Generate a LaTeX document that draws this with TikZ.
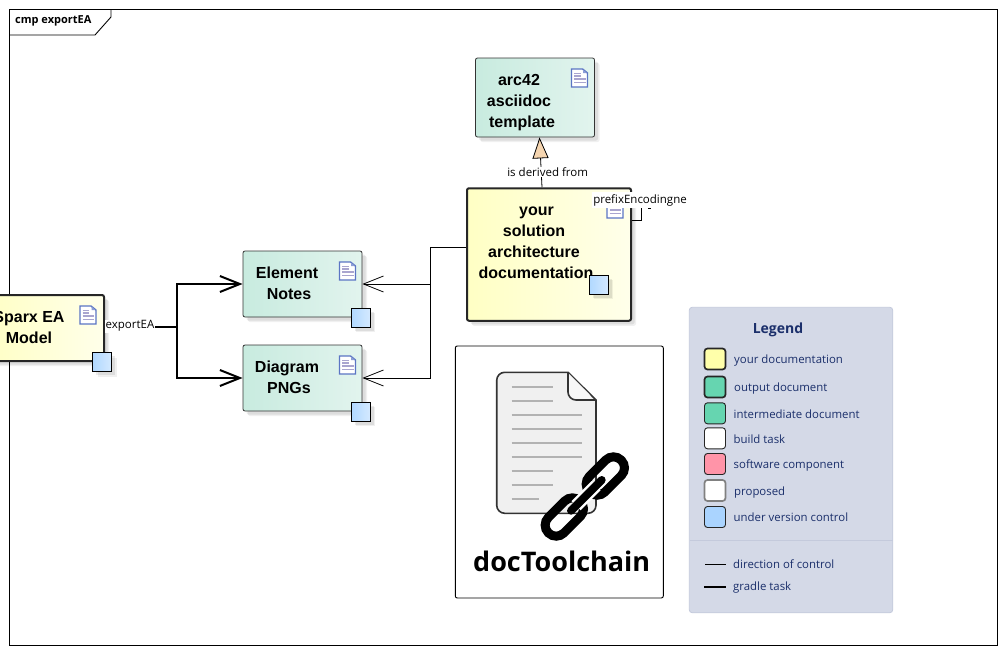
\documentclass[tikz,border=0pt]{standalone}
\usepackage{fontspec}
\setmainfont{Liberation Sans}
\newfontfamily\uifont{Open Sans}
\usetikzlibrary{arrows.meta,shadows,positioning}
\definecolor{legendbg}{HTML}{D4D9E7}
\definecolor{legendln}{HTML}{C4CADC}
\definecolor{legendtx}{HTML}{1B2F6B}
\definecolor{docblue}{HTML}{5B75C4}
\definecolor{docline}{HTML}{A9A5CF}
\definecolor{greenL}{HTML}{C8EBDF}
\definecolor{greenR}{HTML}{E2F4EE}
\definecolor{yellowL}{HTML}{FFFFC4}
\definecolor{yellowR}{HTML}{FFFFEA}
\definecolor{blueL}{HTML}{B0D8FF}
\definecolor{blueR}{HTML}{D4E9FF}
\definecolor{genfill}{HTML}{F5D5B0}
\definecolor{swyellow}{HTML}{FFFFAA}
\definecolor{swgreen}{HTML}{66D5B0}
\definecolor{swpink}{HTML}{FF94A8}
\definecolor{swblue}{HTML}{AAD4FF}
\newcommand{\boxtext}[3]{\makebox[0pt][c]{\hspace*{#1}\hspace*{#1}\raisebox{#2}[0pt][0pt]{\begin{tabular}{@{}c@{}}#3\end{tabular}}}}
\tikzset{
  softshadow/.style={
    drop shadow={shadow xshift=5pt,shadow yshift=-5pt,fill=black,opacity=.06},
    drop shadow={shadow xshift=3.5pt,shadow yshift=-3.5pt,fill=black,opacity=.08}},
  basebox/.style={rectangle,rounded corners=2pt,inner sep=0pt,font=\bfseries\fontsize{16}{21}\selectfont,softshadow},
  greenbox/.style={basebox,draw=black!80,line width=.8pt,left color=greenL,right color=greenR},
  yellowbox/.style={basebox,draw=black!85,line width=2pt,left color=yellowL,right color=yellowR},
  vcsquare/.style={rectangle,draw=black,line width=.8pt,left color=blueL,right color=blueR,minimum size=19pt,inner sep=0pt,softshadow},
  linklabel/.style={font=\uifont\fontsize{11.5}{13}\selectfont,fill=white,inner sep=1pt,text=black},
  legendtext/.style={font=\uifont\fontsize{11.4}{13}\selectfont,text=legendtx,anchor=west,inner sep=0pt,text height=11pt,text depth=2pt},
  swatch/.style={rectangle,rounded corners=3pt,minimum width=21pt,minimum height=21pt,inner sep=0pt,draw=black!85,line width=.9pt},
  swatchthick/.style={swatch,line width=1.7pt},
  thinconn/.style={draw=black,line width=.8pt},
  thickconn/.style={draw=black,line width=2pt},
  openhead/.style={-{Straight Barb[length=20pt,width=16pt,line width=.8pt]}},
  openheadthick/.style={-{Straight Barb[length=20pt,width=16pt,line width=2pt]}},
  pics/docicon/.style={code={
    \draw[docblue,line width=1.4pt,fill=white] (0,0) -- (11,0) -- (16,4) -- (16,18) -- (0,18) -- cycle;
    \fill[docblue!70] (11.5,0.5) -- (15.5,4) -- (11.5,4) -- cycle;
    \foreach \yy/\xx in {4.5/9,7/9,10/14,13.5/14} \draw[docline,line width=1.1pt] (2.5,\yy) -- (\xx,\yy);
  }}
}
\begin{document}
\begin{tikzpicture}[x=1pt,y=-1pt]
\useasboundingbox (0,0) rectangle (1003,653);
\fill[white] (0,0) rectangle (1003,653);
% frame
\draw[black,line width=.9pt] (9,9) rectangle (997,645);
\node[font=\uifont\bfseries\fontsize{11}{13}\selectfont,inner sep=0pt,anchor=west] (frameTitle) at (15,21) {cmp exportEA};
\draw[black,line width=.9pt] (9,35) -- (95,35) -- (111,17) -- (111,9);
% boxes
\node[greenbox,minimum width=119pt,minimum height=79pt] (arc) at (535,97.5)
  {\boxtext{-16pt}{-9.5pt}{arc42\\asciidoc\\\hspace*{6pt}template}};
\node[yellowbox,minimum width=164pt,minimum height=132.5pt] (your) at (549,254.5)
  {\boxtext{-15pt}{7pt}{\hspace*{5pt}your\\solution\\architecture\\\hspace*{4pt}documentation}};
\node[greenbox,minimum width=119pt,minimum height=66pt] (element) at (302.5,284)
  {\boxtext{-15.5pt}{-5pt}{Element\\\hspace*{4pt}Notes}};
\node[greenbox,minimum width=119pt,minimum height=66pt] (diagram) at (302.5,378)
  {\boxtext{-15.5pt}{-5pt}{Diagram\\\hspace*{4pt}PNGs}};
\node[yellowbox,minimum width=119pt,minimum height=66pt] (sparx) at (44.5,328)
  {\boxtext{-15.5pt}{-5pt}{Sparx EA\\Model}};
% doc icons
\pic at (339.5,262) {docicon};
\pic at (339.5,356) {docicon};
\pic at (80,306) {docicon};
\pic at (571.5,69) {docicon};
\pic at (607,200) {docicon};
% version control squares
\node[vcsquare] (vcElement) at (360.5,317.5) {};
\node[vcsquare] (vcDiagram) at (360.5,411.5) {};
\node[vcsquare] (vcSparx) at (102,362) {};
\node[vcsquare] (vcYour) at (598.5,284.5) {};
% connectors
\coordinate (junction) at (177,327);
\coordinate (bus) at (430,247);
\draw[thickconn,openheadthick] (sparx.east |- junction) -- (junction) |- (element.west);
\draw[thickconn,openheadthick] (junction) |- (diagram.west);
\draw[thinconn,openhead] (your.west |- bus) -- (bus) |- (diagram.east);
\draw[thinconn,openhead] (bus |- element.east) -- (element.east);
\draw[thinconn,-{Triangle[length=21pt,width=16pt,fill=genfill,line width=.8pt]}] ([xshift=-7pt]your.north) -- ([xshift=4.5pt]arc.south);
\coordinate (loopA) at (641,220);
\coordinate (loopB) at (641,205);
\coordinate (dashA) at (648,208.5);
\coordinate (dashB) at (651,208.5);
\draw[thinconn] (your.east |- loopA) -- (loopA) -- (loopB);
\draw[thinconn] (dashA) -- (dashB);
\node[linklabel,minimum width=50pt] (lblExport) at (130,326) {exportEA};
\node[linklabel] (lblDerived) at (547.7,172) {is derived from};
\node[linklabel,minimum height=16pt] (lblPrefix) at (640,200) {prefixEncodingne};
% docToolchain logo
\node[rectangle,rounded corners=2pt,draw=black,line width=.9pt,fill=white,minimum width=208pt,minimum height=252pt,inner sep=0pt] (logoBox) at (559.3,472) {};
\draw[black!80,line width=1.6pt,fill=black!6,rounded corners=8pt] (568,372.3) -- (496.7,372.3) -- (496.7,513.3) -- (596,513.3) -- (596,420) [sharp corners] -- (596,400) -- cycle;
\fill[black!3,rounded corners=8pt] (568,373) -- (568,400) -- (595,400) [sharp corners] -- cycle;
\draw[black!80,line width=1.6pt,rounded corners=8pt] (568,372.3) -- (568,400) -- (596,400);
\foreach \yy/\xx in {386.7/553,400.7/553,414.7/582,428.7/582,442.7/582,456.7/582,470.7/553,484.7/553,498.7/539}
  \draw[black!30,line width=2pt] (511.7,\yy) -- (\xx,\yy);
\begin{scope}[shift={(564.3,517)},rotate=45]
  \draw[black,line width=9pt,rounded corners=10.9pt] (-22.5,-11) rectangle (22.5,11);
\end{scope}
\begin{scope}[shift={(605.3,476)},rotate=45]
  \draw[black,line width=9pt,rounded corners=10.9pt] (-22.5,-11) rectangle (22.5,11);
\end{scope}
\draw[white,line width=13pt] (576,505.7) -- (596,485.7);
\draw[black,line width=8pt,line cap=round] (571,510.7) -- (601.7,480);
\node[font=\uifont\bfseries\fontsize{27}{30}\selectfont,inner sep=0pt] (logoText) at (561.7,561) {docToolchain};
% legend
\node[rectangle,rounded corners=3pt,draw=legendln,line width=.8pt,fill=legendbg,minimum width=203.5pt,minimum height=305.5pt,inner sep=0pt] (legend) at (791,460) {};
\node[font=\uifont\bfseries\fontsize{14}{16}\selectfont,text=legendtx,inner sep=0pt] (legendTitle) at (778,330) {Legend};
\node[swatchthick,fill=swyellow] (s1) at (715,359) {};
\node[swatchthick,fill=swgreen] (s2) at (715,387) {};
\node[swatch,fill=swgreen] (s3) at (715,413.3) {};
\node[swatch,fill=white] (s4) at (715,438.3) {};
\node[swatch,fill=swpink] (s5) at (715,464) {};
\node[swatchthick,draw=black!50,fill=white] (s6) at (715,490.5) {};
\node[swatch,fill=swblue] (s7) at (715,517) {};
\node[legendtext] (t1) at (734,359) {your documentation};
\node[legendtext] (t2) at (734,387) {output document};
\node[legendtext] (t3) at (733.5,414) {intermediate document};
\node[legendtext] (t4) at (733.5,438.5) {build task};
\node[legendtext] (t5) at (733.5,464) {software component};
\node[legendtext] (t6) at (734,491) {proposed};
\node[legendtext] (t7) at (733.5,517) {under version control};
\draw[legendln,line width=.8pt] (689.5,540) -- (893,540);
\coordinate (lineA1) at (705,564); \coordinate (lineA2) at (726,564);
\coordinate (lineB1) at (704,587); \coordinate (lineB2) at (726,587);
\draw[thinconn] (lineA1) -- (lineA2);
\draw[thickconn] (lineB1) -- (lineB2);
\node[legendtext] (t8) at (733,564) {direction of control};
\node[legendtext] (t9) at (733,586) {gradle task};
\end{tikzpicture}
\end{document}
